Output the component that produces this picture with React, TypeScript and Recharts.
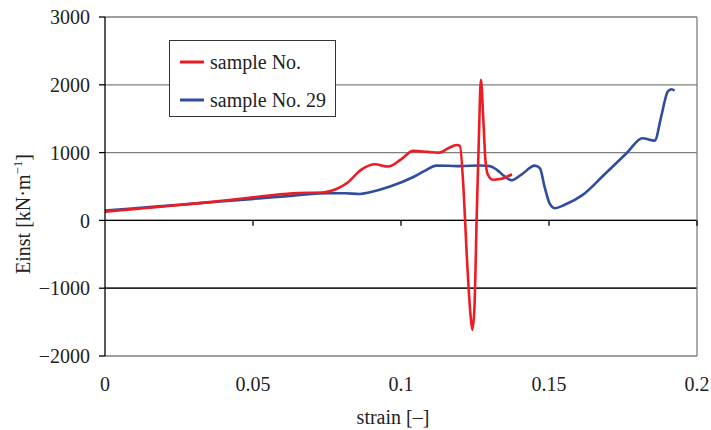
import React from 'react';
import { LineChart, Line, XAxis, YAxis, CartesianGrid, ReferenceLine } from 'recharts';

const strainA = [0, 0.016, 0.032, 0.048, 0.0635, 0.074, 0.078, 0.082, 0.0865, 0.0912, 0.0956, 0.1, 0.1041, 0.109, 0.113, 0.1158, 0.1189, 0.1199, 0.1212, 0.1222, 0.1235, 0.1241, 0.1248, 0.1256, 0.1263, 0.127, 0.1278, 0.1285, 0.1293, 0.131, 0.1335, 0.1375];
const einstA = [130, 190, 255, 330, 401, 416, 460, 560, 745, 829, 794, 900, 1025, 1010, 1000, 1060, 1113, 1100, 400, -500, -1400, -1615, -1300, 100, 1200, 2072, 1500, 900, 680, 600, 610, 681];

const strainB = [0, 0.016, 0.032, 0.048, 0.0635, 0.076, 0.081, 0.0861, 0.0895, 0.0963, 0.104, 0.108, 0.112, 0.116, 0.12, 0.1267, 0.13, 0.1324, 0.135, 0.1374, 0.1408, 0.1452, 0.1469, 0.1486, 0.1502, 0.1519, 0.1553, 0.1614, 0.1688, 0.1762, 0.1816, 0.1857, 0.188, 0.1901, 0.1914, 0.1924];
const einstB = [145, 200, 255, 310, 366, 400, 400, 390, 416, 500, 637, 730, 808, 805, 800, 810, 800, 745, 650, 593, 680, 808, 770, 480, 250, 180, 230, 376, 680, 991, 1212, 1177, 1550, 1900, 1935, 1915];

const xTicks = [0, 0.05, 0.1, 0.15, 0.2];
const yTicks = [-2000, -1000, 0, 1000, 2000, 3000];

const SERIES = [
    { name: 'sample No.', color: '#ed1c24' },
    { name: 'sample No. 29', color: '#2e4d9f' },
];

const FONT = '"Liberation Serif", "Times New Roman", serif';

const dataA = strainA.map((s, i) => ({ strain: s, einst: einstA[i] }));
const dataB = strainB.map((s, i) => ({ strain: s, einst: einstB[i] }));

const fmtY = (v: number) => (v < 0 ? '\u2212' + Math.abs(v) : String(v));

const XTick = (props: any) => (
    <text x={props.x} y={props.y + 35} textAnchor="middle" fontFamily={FONT} fontSize={20} fill="#222">
        {props.payload.value === 0 ? '0' : String(props.payload.value)}
    </text>
);

const YTitle = () => (
    <text transform="translate(30, 214) rotate(-90)" textAnchor="middle" fontFamily={FONT} fontSize={20} fill="#222">
        Einst [kN·m
        <tspan dy={-8} fontSize={13}>{'\u22121'}</tspan>
        <tspan dy={8}>]</tspan>
    </text>
);

export default function App() {
    return (
        <div style={{ position: 'absolute', left: 0, top: 0, width: 711, height: 430, background: '#fff' }}>
            <LineChart
                width={711}
                height={430}
                margin={{ top: 17, right: 14, left: 0, bottom: 0 }}
                style={{ fontFamily: FONT }}
            >
                <CartesianGrid horizontal vertical={false} stroke="#7f7f7f" strokeWidth={1.3} />
                <XAxis
                    type="number"
                    dataKey="strain"
                    domain={[0, 0.2]}
                    ticks={xTicks}
                    axisLine={false}
                    tickLine={false}
                    tickSize={0}
                    tickMargin={0}
                    height={74}
                    tick={XTick}
                    label={{ value: 'strain [\u2013]', position: 'insideBottom', offset: 6, dx: -8, fontSize: 20, fill: '#222', fontFamily: FONT }}
                />
                <YAxis
                    type="number"
                    domain={[-2000, 3000]}
                    ticks={yTicks}
                    width={105}
                    tickFormatter={fmtY}
                    tickSize={6}
                    tickMargin={9}
                    tick={{ fontSize: 20, fill: '#222', fontFamily: FONT }}
                    axisLine={{ stroke: '#000', strokeWidth: 1.3 }}
                    tickLine={{ stroke: '#000', strokeWidth: 1.3 }}
                    label={<YTitle />}
                />
                <ReferenceLine y={0} stroke="#000" strokeWidth={1.3} />
                <ReferenceLine y={-1000} stroke="#000" strokeWidth={1.3} />
                <ReferenceLine x={0.2} stroke="#7f7f7f" strokeWidth={1.3} />
                {xTicks.slice(1).map((t) => (
                    <ReferenceLine key={t} segment={[{ x: t, y: 0 }, { x: t, y: -80 }]} stroke="#000" strokeWidth={1.3} />
                ))}
                <Line
                    data={dataB}
                    dataKey="einst"
                    name={SERIES[1].name}
                    type="monotone"
                    stroke={SERIES[1].color}
                    strokeWidth={2.6}
                    dot={false}
                    isAnimationActive={false}
                />
                <Line
                    data={dataA}
                    dataKey="einst"
                    name={SERIES[0].name}
                    type="monotone"
                    stroke={SERIES[0].color}
                    strokeWidth={2.6}
                    dot={false}
                    isAnimationActive={false}
                />
            </LineChart>
            <div
                style={{
                    position: 'absolute',
                    left: 169,
                    top: 40,
                    width: 165,
                    height: 75,
                    border: '1px solid #333',
                    background: '#fff',
                    fontFamily: FONT,
                    fontSize: 20,
                    color: '#222',
                }}
            >
                {SERIES.map((s, i) => (
                    <div key={s.name} style={{ position: 'absolute', left: 10, top: 9 + i * 38, height: 24, display: 'flex', alignItems: 'center' }}>
                        <svg width={24} height={4} style={{ marginRight: 6 }}>
                            <line x1={0} y1={2} x2={24} y2={2} stroke={s.color} strokeWidth={3} />
                        </svg>
                        <span style={{ whiteSpace: 'nowrap', lineHeight: '24px' }}>{s.name}</span>
                    </div>
                ))}
            </div>
        </div>
    );
}
